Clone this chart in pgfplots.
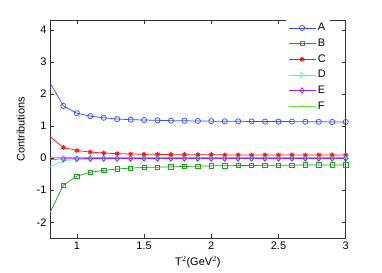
\documentclass[border=0pt]{standalone}
\usepackage{fontspec}
\setmainfont{Liberation Sans}
\usepackage{pgfplots}
\pgfplotsset{compat=1.18}
\definecolor{cA}{RGB}{50,80,255}
\definecolor{cB}{RGB}{30,160,30}
\definecolor{cC}{RGB}{255,20,20}
\definecolor{cD}{RGB}{70,250,180}
\definecolor{cE}{RGB}{150,30,255}
\definecolor{cF}{RGB}{100,230,30}
\begin{document}
\begin{tikzpicture}
\begin{axis}[
  scale only axis, width=295.7bp, height=218bp,
  xmin=0.8, xmax=3, ymin=-2.5, ymax=4.3,
  xtick={1,1.5,2,2.5,3}, ytick={-2,-1,0,1,2,3,4},
  xticklabels={1,1.5,2,2.5,3},
  tick align=inside, major tick length=4bp,
  axis line style={line width=0.6pt, black!80},
  every tick/.style={black!80, line width=0.5pt},
  /pgf/number format/assume math mode=true,
  tick label style={font=\fontsize{11}{13}\selectfont},
  label style={font=\fontsize{11}{13}\selectfont},
  xlabel={T$^2$(GeV$^2$)}, ylabel={Contributions},
  xlabel style={at={(axis description cs:0.5,-0.109)}, anchor=center},
  ylabel style={at={(axis description cs:-0.099,0.5)}, anchor=center},
  legend style={at={(0.947,1.005)}, anchor=north east, draw=none, fill=white,
    font=\fontsize{11}{13}\selectfont, row sep=2.6bp, inner sep=2bp},
  legend cell align=left,
  legend image code/.code={\draw[#1,mark indices={2}] plot coordinates {(0cm,0cm)(0.475cm,0cm)(0.95cm,0cm)};},
  every axis plot/.append style={mark indices={2,...,23}},
]
\addplot[cA, line width=0.75pt, mark=o, mark size=2.6bp] coordinates {
(0.8,2.35)(0.9,1.63)(1.0,1.40)(1.1,1.31)(1.2,1.26)(1.3,1.22)(1.4,1.20)(1.5,1.19)(1.6,1.18)(1.7,1.17)(1.8,1.165)(1.9,1.16)(2.0,1.155)(2.1,1.15)(2.2,1.15)(2.3,1.145)(2.4,1.14)(2.5,1.14)(2.6,1.14)(2.7,1.135)(2.8,1.135)(2.9,1.13)(3.0,1.13)};
\addlegendentry{A}
\addplot[cB, line width=0.75pt, mark=square, mark size=2.2bp] coordinates {
(0.8,-1.70)(0.9,-0.84)(1.0,-0.56)(1.1,-0.44)(1.2,-0.38)(1.3,-0.34)(1.4,-0.31)(1.5,-0.29)(1.6,-0.28)(1.7,-0.27)(1.8,-0.26)(1.9,-0.25)(2.0,-0.24)(2.1,-0.24)(2.2,-0.23)(2.3,-0.23)(2.4,-0.22)(2.5,-0.22)(2.6,-0.22)(2.7,-0.21)(2.8,-0.21)(2.9,-0.21)(3.0,-0.21)};
\addlegendentry{B}
\addplot[cC, line width=0.75pt, mark=asterisk, mark size=2.4bp, mark options={line width=1.2pt}] coordinates {
(0.8,0.67)(0.9,0.33)(1.0,0.24)(1.1,0.19)(1.2,0.16)(1.3,0.14)(1.4,0.13)(1.5,0.12)(1.6,0.12)(1.7,0.11)(1.8,0.11)(1.9,0.11)(2.0,0.11)(2.1,0.10)(2.2,0.10)(2.3,0.10)(2.4,0.10)(2.5,0.10)(2.6,0.10)(2.7,0.10)(2.8,0.10)(2.9,0.10)(3.0,0.10)};
\addlegendentry{C}
\addplot[cD, line width=0.75pt, mark=triangle, mark options={rotate=-90}, mark size=2.6bp] coordinates {
(0.8,-0.26)(0.9,-0.08)(1.0,-0.04)(1.1,-0.03)(1.2,-0.02)(1.3,-0.02)(1.4,-0.01)(1.5,-0.01)(1.6,-0.01)(1.7,-0.01)(1.8,-0.01)(1.9,-0.01)(2.0,-0.01)(2.1,-0.01)(2.2,-0.01)(2.3,-0.01)(2.4,-0.01)(2.5,-0.01)(2.6,-0.01)(2.7,-0.01)(2.8,-0.01)(2.9,-0.01)(3.0,-0.01)};
\addlegendentry{D}
\addplot[cE, line width=0.75pt, mark=diamond, mark size=2.8bp] coordinates {
(0.8,-0.04)(0.9,-0.02)(1.0,-0.02)(1.1,-0.01)(1.2,-0.01)(1.3,-0.01)(1.4,-0.01)(1.5,-0.01)(1.6,-0.01)(1.7,-0.01)(1.8,-0.01)(1.9,-0.01)(2.0,-0.01)(2.1,-0.01)(2.2,-0.01)(2.3,-0.01)(2.4,-0.01)(2.5,-0.01)(2.6,-0.01)(2.7,-0.01)(2.8,-0.01)(2.9,-0.01)(3.0,-0.01)};
\addlegendentry{E}
\addplot[cF, line width=0.75pt, mark=*, mark size=0.5bp] coordinates {
(0.8,0.03)(0.9,0.03)(1.0,0.03)(1.1,0.03)(1.2,0.03)(1.3,0.03)(1.4,0.03)(1.5,0.03)(1.6,0.03)(1.7,0.03)(1.8,0.03)(1.9,0.03)(2.0,0.03)(2.1,0.03)(2.2,0.03)(2.3,0.03)(2.4,0.03)(2.5,0.03)(2.6,0.03)(2.7,0.03)(2.8,0.03)(2.9,0.03)(3.0,0.03)};
\addlegendentry{F}
\end{axis}
\pgfresetboundingbox
\path ([xshift=-50bp,yshift=-34.7bp]current axis.south west) rectangle ++(382bp,273bp);
\end{tikzpicture}
\end{document}
